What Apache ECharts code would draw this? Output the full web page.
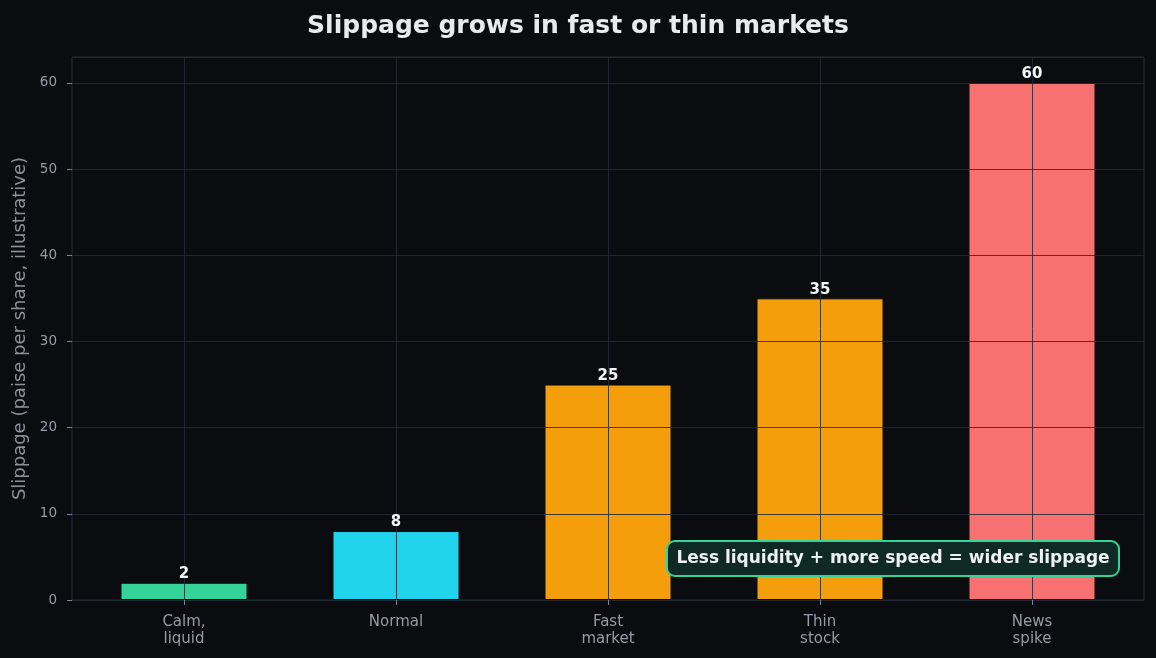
<!DOCTYPE html>
<html>
<head>
<meta charset="utf-8">
<script src="https://cdn.jsdelivr.net/npm/echarts@6/dist/echarts.min.js"></script>
<style>
html,body{margin:0;padding:0;background:#0b0c10;}
#chart{width:1156px;height:658px;}
</style>
</head>
<body>
<div id="chart"></div>
<script>
const categories = ['Calm,\nliquid', 'Normal', 'Fast\nmarket', 'Thin\nstock', 'News\nspike'];
const slippage = [2, 8, 25, 35, 60];
const barColors = ['#34d399', '#22d3ee', '#f59e0b', '#f59e0b', '#f87171'];
const yTicks = [0, 10, 20, 30, 40, 50, 60];
const titleText = 'Slippage grows in fast or thin markets';
const yAxisTitle = 'Slippage (paise per share, illustrative)';
const noteText = 'Less liquidity + more speed = wider slippage';

const FONT = 'DejaVu Sans';
const GRID_LINE = 'rgba(34,42,54,0.85)';
const LABEL_COLOR = '#949ca8';
const TICK_COLOR = '#7d8591';

const chart = echarts.init(document.getElementById('chart'), null, {renderer: 'canvas'});

const barData = slippage.map((v, i) => ({
  value: [i, v],
  itemStyle: {color: barColors[i]}
}));

const option = {
  backgroundColor: '#0b0c10',
  animation: false,
  title: {
    text: titleText,
    left: 'center',
    top: 9,
    textStyle: {fontFamily: FONT, fontSize: 25, fontWeight: 'bold', color: '#e8eaee'}
  },
  grid: [
    {left: 72, right: 12, top: 57, bottom: 58, show: true, borderColor: '#252d38', borderWidth: 1,
     backgroundColor: 'transparent', outerBoundsMode: 'none', containLabel: false},
    {left: 184, right: 124, top: 57, bottom: 58, outerBoundsMode: 'none', containLabel: false}
  ],
  xAxis: [
    {gridIndex: 0, type: 'value', min: -0.53, max: 4.53, show: false},
    {
      gridIndex: 1, type: 'value', min: 0, max: 4, interval: 1, z: 5,
      axisLine: {show: false, onZero: false},
      axisTick: {show: true, length: 5, lineStyle: {color: TICK_COLOR}},
      splitLine: {show: true, lineStyle: {color: GRID_LINE, width: 1}},
      axisLabel: {
        margin: 14,
        fontFamily: FONT, fontSize: 15, lineHeight: 17, color: LABEL_COLOR,
        formatter: v => categories[Math.round(v)] || ''
      }
    }
  ],
  yAxis: [
    {
      gridIndex: 0, type: 'value', min: 0, max: 63, interval: 10, z: 5,
      name: yAxisTitle, nameLocation: 'middle', nameGap: 43,
      nameTextStyle: {fontFamily: FONT, fontSize: 18, color: '#8a929e'},
      axisLine: {show: false, onZero: false},
      axisTick: {show: true, length: 5, lineStyle: {color: TICK_COLOR}},
      splitLine: {show: true, lineStyle: {color: GRID_LINE, width: 1}},
      axisLabel: {
        margin: 15, showMaxLabel: false,
        fontFamily: FONT, fontSize: 13.5, color: LABEL_COLOR,
        formatter: v => (yTicks.indexOf(v) >= 0 ? String(v) : '')
      }
    },
    {gridIndex: 1, type: 'value', min: 0, max: 63, show: false,
     axisLine: {show: false, onZero: false}, axisTick: {show: false}, axisLabel: {show: false}, splitLine: {show: false}}
  ],
  series: [
    {
      type: 'bar', xAxisIndex: 1, yAxisIndex: 1, z: 2,
      barWidth: 127,
      data: barData,
      itemStyle: {borderColor: '#0b0c10', borderWidth: 1}
    },
    {
      type: 'bar', xAxisIndex: 1, yAxisIndex: 1, z: 10,
      barWidth: 127, barGap: '-100%',
      data: slippage.map((v, i) => [i, v]),
      itemStyle: {color: 'rgba(0,0,0,0)'},
      label: {
        show: true, position: 'top', distance: 1,
        fontFamily: FONT, fontSize: 15, fontWeight: 'bold', color: '#f3f4f6',
        formatter: p => String(p.value[1])
      },
      silent: true
    }
  ],
  graphic: [
    {
      type: 'rect', z: 20,
      shape: {x: 667, y: 541, width: 452, height: 35, r: 8},
      style: {fill: '#0f2a24', stroke: '#34d399', lineWidth: 2}
    },
    {
      type: 'text', z: 21,
      x: 893, y: 558.5,
      style: {
        text: noteText, fontFamily: FONT, fontSize: 17, fontWeight: 'bold',
        fill: '#eef0f3', align: 'center', verticalAlign: 'middle'
      }
    }
  ]
};

chart.setOption(option);
</script>
</body>
</html>
